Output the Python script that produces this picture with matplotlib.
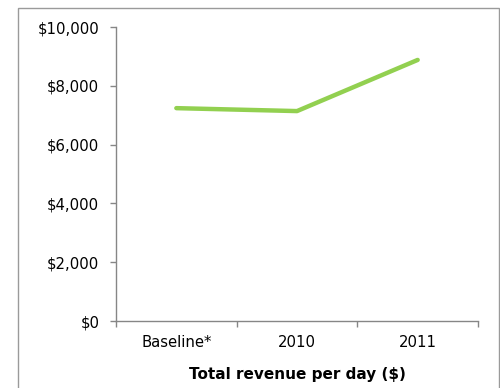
import matplotlib
matplotlib.use("Agg")
import matplotlib.pyplot as plt
from matplotlib.patches import Rectangle
from matplotlib.ticker import FuncFormatter

categories = ["Baseline*", "2010", "2011"]
revenue = [7240, 7140, 8880]
y_ticks = [0, 2000, 4000, 6000, 8000, 10000]
x_title = "Total revenue per day ($)"

plt.rcParams["font.family"] = ["DejaVu Sans"]

fig = plt.figure(figsize=(5.0, 3.88), dpi=100)
fig.patch.set_facecolor("white")

# outer chart frame (open at the bottom edge of the image)
fig.patches.append(Rectangle((18 / 500, -0.05), (499 - 18) / 500, 1.05 - 8 / 388,
                             transform=fig.transFigure, fill=False,
                             edgecolor="#9a9a9a", linewidth=1.0))

ax = fig.add_axes([116 / 500, 1 - 321 / 388, (478 - 116) / 500, (321 - 27) / 388])

x = list(range(len(categories)))
ax.plot(x, revenue, color="#92D050", linewidth=3.2, solid_capstyle="round",
        solid_joinstyle="round")

ax.set_xlim(-0.5, len(categories) - 0.5)
ax.set_ylim(0, 10000)
ax.set_yticks(y_ticks)
ax.yaxis.set_major_formatter(FuncFormatter(lambda v, p: f"${v:,.0f}"))
ax.set_xticks(x)
ax.set_xticklabels(categories)
ax.set_xticks([i - 0.5 for i in range(len(categories) + 1)], minor=True)

for side in ["top", "right"]:
    ax.spines[side].set_visible(False)
for side in ["left", "bottom"]:
    ax.spines[side].set_color("#868686")
    ax.spines[side].set_linewidth(1.0)

ax.tick_params(axis="y", direction="out", length=4, width=1.0, color="#868686",
               pad=8, labelsize=10.7, labelcolor="black")
ax.tick_params(axis="x", which="major", length=0, pad=10, labelsize=10.7)
ax.tick_params(axis="x", which="minor", direction="out", length=4, width=1.0,
               color="#868686")

ax.set_xlabel(x_title, fontsize=11, fontweight="bold", labelpad=12)

fig.savefig("out.png", dpi=100)
